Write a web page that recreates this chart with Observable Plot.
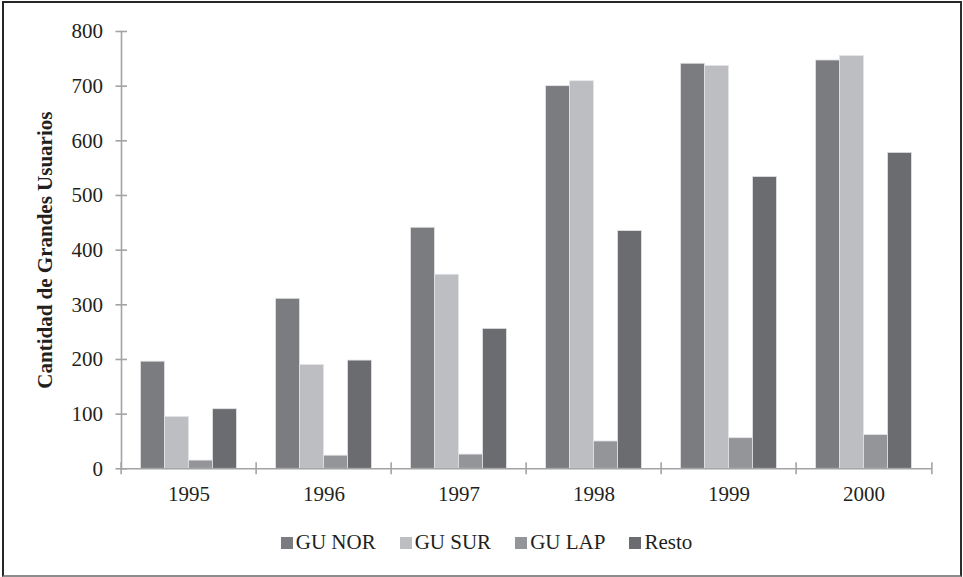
<!DOCTYPE html>
<html>
<head>
<meta charset="utf-8">
<script src="https://cdn.jsdelivr.net/npm/d3@7"></script>
<script src="https://cdn.jsdelivr.net/npm/@observablehq/plot@0.6"></script>
<style>
  html, body { margin: 0; padding: 0; background: #fff; }
  body { width: 963px; height: 577px; position: relative; overflow: hidden; font-family: "Liberation Serif", "Times New Roman", serif; color: #231f20; }
  #frame { position: absolute; left: 2px; top: 1px; width: 956px; height: 572px; border-left: 2px solid #262626; border-top: 2px solid #262626; border-right: 2px solid #2e2e2e; border-bottom: 2px solid #8c8c8c; pointer-events: none; }
  #chart { position: absolute; left: 0; top: 0; }
  #legend { position: absolute; left: 0; top: 530px; width: 963px; display: flex; justify-content: center; align-items: center; font-size: 21px; padding-left: 10px; box-sizing: border-box; }
  .item { display: flex; align-items: center; margin: 0 12px; }
  .sw { width: 12px; height: 12px; margin-right: 3px; }
</style>
</head>
<body>
<div id="chart"></div>
<div id="legend"></div>
<div id="frame"></div>
<script>
// Grandes usuarios por región, 1995–2000
const years = [1995, 1996, 1997, 1998, 1999, 2000];
const series = ["GU NOR", "GU SUR", "GU LAP", "Resto"];
const guNor = [196, 311, 441, 700, 741, 747];
const guSur = [95, 190, 355, 709, 737, 755];
const guLap = [15, 24, 26, 50, 56, 62];
const resto = [109, 198, 256, 435, 534, 578];
const yTicks = [0, 100, 200, 300, 400, 500, 600, 700, 800];
const yTitle = "Cantidad de Grandes Usuarios";

const colors = ["#7b7c80", "#bdbec2", "#949599", "#6b6c70"];
const axisGray = "#a3a3a3";

const valuesBySeries = [guNor, guSur, guLap, resto];
const data = [];
years.forEach((year, i) => {
  series.forEach((s, j) => data.push({year, series: s, value: valuesBySeries[j][i]}));
});

const W = 963, H = 520, ML = 118.5, MR = 30, MT = 31, MB = 51.7;
const bandW = (W - ML - MR) / years.length;
const noText = () => "";

const chart = Plot.plot({
  width: W,
  height: H,
  marginLeft: ML,
  marginRight: MR,
  marginTop: MT,
  marginBottom: MB,
  style: {fontFamily: "'Liberation Serif', 'Times New Roman', serif", fontSize: "21px", color: "#231f20", background: "transparent"},
  fx: {domain: years, padding: 0},
  x: {domain: series, paddingInner: 0, paddingOuter: 0.79, axis: null},
  y: {domain: [0, 800]},
  color: {domain: series, range: colors},
  marks: [
    Plot.barY(data, {fx: "year", x: "series", y: "value", fill: "series", stroke: "#e4e4e6", strokeWidth: 0.8}),
    Plot.ruleY([0], {stroke: axisGray, strokeWidth: 1.6}),
    Plot.frame({anchor: "left", facet: "super", stroke: axisGray, strokeWidth: 1.6}),
    // y tick labels
    Plot.axisY({ticks: yTicks, tickSize: 0, tickPadding: 18.5, label: null, fontSize: 21}),
    // y tick marks crossing the axis line
    Plot.axisY({ticks: yTicks, tickSize: 11.5, dx: 6, tickFormat: noText, label: null, stroke: axisGray, strokeWidth: 1.6}),
    // y title
    Plot.axisY({ticks: [], tickSize: 0, tickFormat: noText, label: yTitle, labelAnchor: "center", labelArrow: "none", labelOffset: 84, dy: -5, fontWeight: "bold", fontSize: 21}),
    // year labels
    Plot.axisFx({anchor: "bottom", tickSize: 0, tickPadding: 17, tickFormat: d => String(d), label: null, fontSize: 21}),
    // category boundary ticks
    Plot.axisFx({anchor: "bottom", tickSize: 12, dy: -6, dx: -bandW / 2, tickFormat: noText, label: null, stroke: axisGray, strokeWidth: 1.6}),
    Plot.axisFx({anchor: "bottom", ticks: [years[years.length - 1]], tickSize: 12, dy: -6, dx: bandW / 2, tickFormat: noText, label: null, stroke: axisGray, strokeWidth: 1.6})
  ]
});
document.getElementById("chart").appendChild(chart);

// legend
const legend = d3.select("#legend");
series.forEach((s, j) => {
  const item = legend.append("div").attr("class", "item");
  item.append("div").attr("class", "sw").style("background", colors[j]);
  item.append("span").text(s);
});
</script>
</body>
</html>
